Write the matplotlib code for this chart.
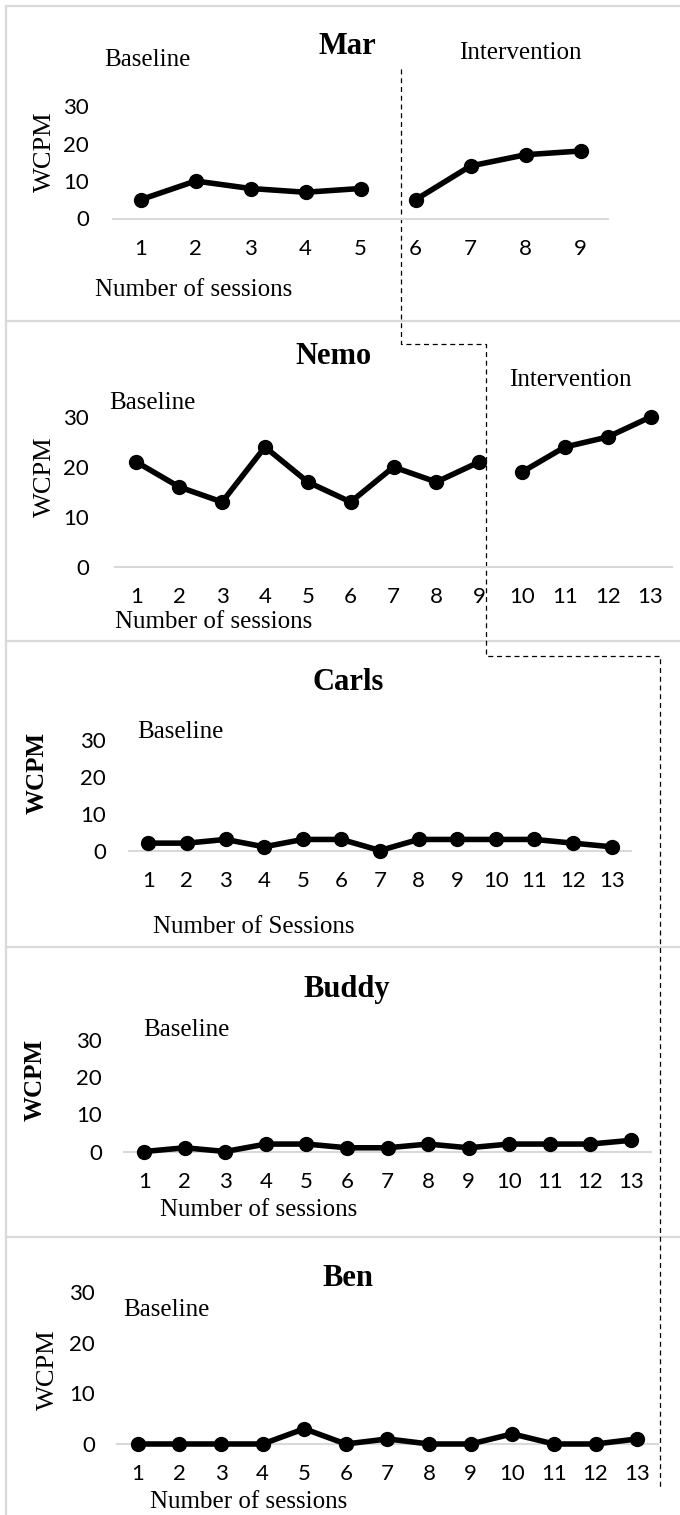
import matplotlib.pyplot as plt

W, H = 680, 1515

# data (WCPM per session)
mar_base_x = [1, 2, 3, 4, 5]
mar_base = [5, 10, 8, 7, 8]
mar_int_x = [6, 7, 8, 9]
mar_int = [5, 14, 17, 18]

nemo_base_x = [1, 2, 3, 4, 5, 6, 7, 8, 9]
nemo_base = [21, 16, 13, 24, 17, 13, 20, 17, 21]
nemo_int_x = [10, 11, 12, 13]
nemo_int = [19, 24, 26, 30]

sessions = [1, 2, 3, 4, 5, 6, 7, 8, 9, 10, 11, 12, 13]
carls = [2, 2, 3, 1, 3, 3, 0, 3, 3, 3, 3, 2, 1]
buddy = [0, 1, 0, 2, 2, 1, 1, 2, 1, 2, 2, 2, 3]
ben = [0, 0, 0, 0, 3, 0, 1, 0, 0, 2, 0, 0, 1]

y_ticks = [0, 10, 20, 30]

fig = plt.figure(figsize=(W / 100, H / 100), dpi=100)
fig.patch.set_facecolor('white')

# overlay in pixel coordinates for borders, labels and the phase-change line
ov = fig.add_axes([0, 0, 1, 1])
ov.set_xlim(0, W)
ov.set_ylim(H, 0)
ov.axis('off')

grey = '#d9d9d9'
ov.plot([6, 6], [6, H], color=grey, lw=1.6)
for yy in [6, 321, 641, 947, 1237]:
    ov.plot([6, W], [yy, yy], color=grey, lw=1.6)

ov.plot([401, 401, 486, 486, 660, 660], [69, 344, 344, 656, 656, 1488],
        color='black', lw=0.9, ls=(0, (4, 3)))

serif = 'Liberation Serif'


def label(x, y, s, size=18, weight='normal', rot=0):
    ov.text(x, y, s, ha='center', va='center', fontsize=size, fontweight=weight,
            rotation=rot, family=serif)


def panel(left, right, top, bottom, n, ypad):
    ax = fig.add_axes([left / W, 1 - bottom / H, (right - left) / W, (bottom - top) / H])
    ax.patch.set_alpha(0)
    ax.set_xlim(0.5, n + 0.5)
    ax.set_ylim(0, 30)
    ax.set_xticks(range(1, n + 1))
    ax.set_yticks(y_ticks)
    for s in ['top', 'right', 'left']:
        ax.spines[s].set_visible(False)
    ax.spines['bottom'].set_color(grey)
    ax.spines['bottom'].set_linewidth(1.5)
    ax.tick_params(axis='x', length=0, labelsize=16, pad=14.5)
    ax.tick_params(axis='y', length=0, labelsize=16, pad=ypad * 0.72)
    for t in ax.get_xticklabels() + ax.get_yticklabels():
        t.set_fontfamily('Lato')
    return ax


def series(ax, x, y):
    ax.plot(x, y, color='black', lw=4, marker='o', ms=10, clip_on=False, zorder=3)


# Mar
ax = panel(113, 608, 106, 218.5, 9, 24)
series(ax, mar_base_x, mar_base)
series(ax, mar_int_x, mar_int)
label(347, 47, 'Mar', 22, 'bold')
label(147, 60, 'Baseline')
label(520, 53, 'Intervention')
label(45, 152, 'WCPM', 19, rot=90)
label(194, 290, 'Number of sessions')

# Nemo
ax = panel(115, 672, 417, 567, 13, 26)
series(ax, nemo_base_x, nemo_base)
series(ax, nemo_int_x, nemo_int)
label(333, 357, 'Nemo', 22, 'bold')
label(152, 403, 'Baseline')
label(570, 380, 'Intervention')
label(45, 477, 'WCPM', 19, rot=90)
label(214, 622, 'Number of sessions')

# Carls
ax = panel(129, 631, 740, 850.5, 13, 23)
series(ax, sessions, carls)
label(348, 682, 'Carls', 22, 'bold')
label(180, 732, 'Baseline')
label(37, 773, 'WCPM', 18, 'bold', rot=90)
label(254, 927, 'Number of Sessions')

# Buddy
ax = panel(124, 651, 1040, 1151.5, 13, 22)
series(ax, sessions, buddy)
label(347, 990, 'Buddy', 22, 'bold')
label(186, 1030, 'Baseline')
label(35, 1080, 'WCPM', 18, 'bold', rot=90)
label(259, 1210, 'Number of sessions')

# Ben
ax = panel(117, 658, 1292, 1444, 13, 22)
series(ax, sessions, ben)
label(348, 1278, 'Ben', 22, 'bold')
label(166, 1310, 'Baseline')
label(48, 1370, 'WCPM', 19, rot=90)
label(249, 1502, 'Number of sessions')

fig.savefig('out.png', dpi=100)
